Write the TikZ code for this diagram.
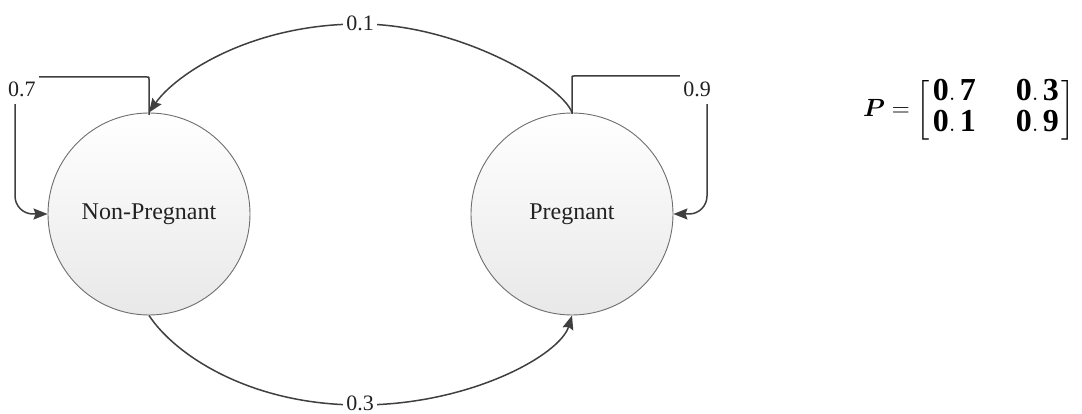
\documentclass[tikz,border=0pt]{standalone}
\usepackage{fontspec}
\setmainfont{Liberation Serif}
\usepackage{amsmath,bm}
\usetikzlibrary{arrows.meta,calc}
\definecolor{linec}{HTML}{3F3F3F}
\definecolor{circc}{HTML}{6E6E6E}
\definecolor{textc}{HTML}{222222}
\tikzset{
  state/.style={circle, draw=circc, line width=0.9pt, minimum size=202pt, inner sep=0pt,
    top color=white, bottom color=black!9, text=textc, font=\fontsize{24}{28}\selectfont},
  conn/.style={draw=linec, line width=1.5pt},
  arr/.style={-{Stealth[length=14pt,width=11pt,inset=2pt]}},
  lab/.style={fill=white, inner xsep=3pt, inner ysep=8pt, text=textc, font=\fontsize{22}{26}\selectfont},
}
\newcommand{\bd}[2]{\mathbf{#1.}\mkern3mu\mathbf{#2}}
\begin{document}
\begin{tikzpicture}[x=1pt,y=-1pt]
\useasboundingbox (0,0) rectangle (1082,414);
\node[state] (NP) at (149,214) {Non-Pregnant};
\node[state] (P) at (572,214) {Pregnant};
\coordinate (c07) at (15,77);
\coordinate (c09) at (707,76);
\coordinate (k07) at (NP.north |- c07);
\coordinate (k09) at (P.north |- c09);
% 0.1 arc
\draw[conn,arr] (P.north) .. controls (562,85) and (460,24) .. (360,24)
  .. controls (250,24) and (175,75) .. (NP.north);
% 0.3 arc
\draw[conn,arr] (NP.south) .. controls (175,355) and (250,405) .. (360,405)
  .. controls (470,405) and (560,355) .. (P.south);
% self loops
\draw[conn,arr,rounded corners=18pt] (NP.north) -- ($(k07)+(0,20)$) .. controls (k07) .. ($(k07)+(-20,0)$) -- (c07) -- (c07 |- NP.west) -- (NP.west);
\draw[conn,arr,rounded corners=18pt] (P.north) -- ($(k09)+(0,20)$) .. controls (k09) .. ($(k09)+(20,0)$) -- (c09) -- (c09 |- P.east) -- (P.east);
% labels
\node[lab] (l01) at (360,23) {0.1};
\node[lab,inner ysep=2pt] (l03) at (360,403) {0.3};
\node[lab] (l07) at (22,89) {0.7};
\node[lab] (l09) at (697,89) {0.9};
% matrix
\node[font=\fontsize{32}{38}\selectfont, inner sep=0pt, anchor=center] (mat) at (969,110)
  {$\bm{P}=\setlength{\arraycolsep}{20pt}\renewcommand{\arraystretch}{0.8}\left[\hspace{-17pt}\begin{array}{cc}\bd{0}{7} & \bd{0}{3}\\ \bd{0}{1} & \bd{0}{9}\end{array}\hspace{-17pt}\right]$};
\end{tikzpicture}
\end{document}
